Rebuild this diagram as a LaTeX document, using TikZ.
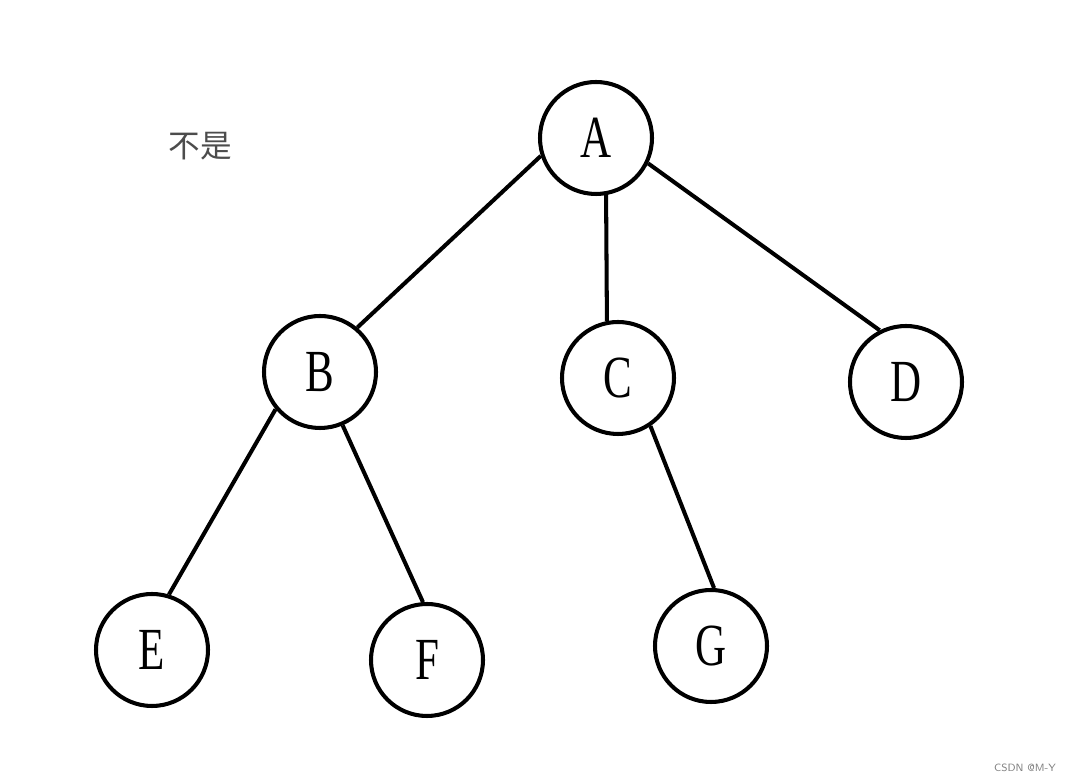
\documentclass[tikz,border=0pt]{standalone}
\usepackage{fontspec}
\newfontfamily\letterfont{Liberation Serif}
\newfontfamily\cjk{Noto Sans CJK SC}
\usepackage{xcolor}
\usepackage{graphicx}
\usepackage{tikz}
\usetikzlibrary{positioning}

\newcommand{\narrow}[1]{\scalebox{0.72}[1]{#1}}

\begin{document}
\begin{tikzpicture}[
    vertex/.style={draw, circle, line width=2.3pt, minimum size=2.24cm, inner sep=0pt,
                   font=\letterfont\fontsize{34}{34}\selectfont},
    edge/.style={line width=2.3pt}
]
\useasboundingbox (0,0) rectangle (21.38,15.62);
\node[vertex] (A) at (11.92,12.86) {\narrow{A}};
\node[vertex] (B) at (6.40,8.18) {\narrow{B}};
\node[vertex] (C) at (12.36,8.06) {\narrow{C}};
\node[vertex] (D) at (18.12,7.98) {\narrow{D}};
\node[vertex] (E) at (3.04,2.62) {\narrow{E}};
\node[vertex] (F) at (8.54,2.42) {\narrow{F}};
\node[vertex] (G) at (14.22,2.70) {\narrow{G}};

\node[font=\cjk\fontsize{18}{18}\selectfont, text=black!70] (note) at (4.00,12.70) {不是};
\node[font=\sffamily\fontsize{6}{6}\selectfont, text=black!50] (mark) at (20.50,0.26) {CSDN @M-Y};

\draw[edge] (A.198) -- (B.50);
\draw[edge] (A.-80) -- (C.101);
\draw[edge] (A.-26) -- (D.117);
\draw[edge] (B.220) -- (E.73);
\draw[edge] (B.-67) -- (F.94);
\draw[edge] (C.-56) -- (G.87);
\end{tikzpicture}
\end{document}
